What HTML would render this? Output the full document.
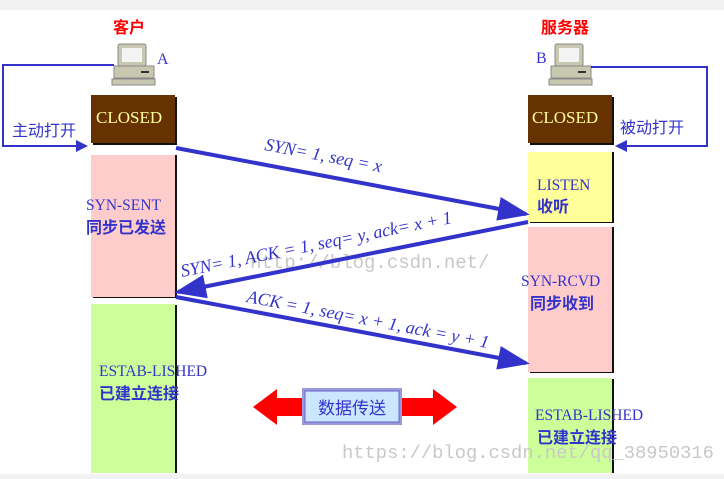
<!DOCTYPE html>
<html><head><meta charset="utf-8"><style>
html,body{margin:0;padding:0;background:#fff;}
svg{display:block;}
</style></head><body>
<svg width="724" height="479" viewBox="0 0 724 479" xmlns="http://www.w3.org/2000/svg">
<defs>
<marker id="ah" markerWidth="8" markerHeight="6" refX="7" refY="3" orient="auto" markerUnits="strokeWidth">
<path d="M0,0 L8,3 L0,6 Z" fill="#3333cc"/></marker>
<marker id="sh" markerWidth="6" markerHeight="6" refX="5" refY="3" orient="auto" markerUnits="strokeWidth">
<path d="M0,0 L6,3 L0,6 Z" fill="#3333cc"/></marker>
</defs>
<rect x="0" y="0" width="724" height="10" fill="#f2f2f2"/>
<rect x="0" y="474" width="724" height="5" fill="#f2f2f2"/>

<g font-family="Liberation Sans, Noto Sans CJK SC, sans-serif" font-weight="bold" fill="#ff0000" font-size="16">
<text x="113" y="33">客户</text>
<text x="541" y="33">服务器</text>
</g>
<g font-family="Liberation Serif, serif" fill="#3333cc" font-size="16">
<text x="157" y="64">A</text>
<text x="536" y="63">B</text>
</g>

<g>
<rect x="118" y="44" width="28" height="22" fill="#c8c8b0" stroke="#888" rx="2"/>
<rect x="122" y="48" width="20" height="14" fill="#f4f4f4"/>
<rect x="114" y="66" width="40" height="12" fill="#c8c8b0" stroke="#888"/>
<rect x="141" y="71" width="8" height="2" fill="#333"/>
<rect x="112" y="79" width="43" height="6" fill="#c8c8b0" stroke="#888"/>
</g>
<g transform="translate(437,0)">
<rect x="118" y="44" width="28" height="22" fill="#c8c8b0" stroke="#888" rx="2"/>
<rect x="122" y="48" width="20" height="14" fill="#f4f4f4"/>
<rect x="114" y="66" width="40" height="12" fill="#c8c8b0" stroke="#888"/>
<rect x="141" y="71" width="8" height="2" fill="#333"/>
<rect x="112" y="79" width="43" height="6" fill="#c8c8b0" stroke="#888"/>
</g>

<polyline points="114,65 3,65 3,146 86,146" fill="none" stroke="#3333cc" stroke-width="2" marker-end="url(#sh)"/>
<polyline points="591,67 707,67 707,146 617,146" fill="none" stroke="#3333cc" stroke-width="2" marker-end="url(#sh)"/>
<g font-family="Liberation Sans, Noto Sans CJK SC, sans-serif" fill="#3333cc" font-size="16">
<text x="12" y="136">主动打开</text>
<text x="620" y="133">被动打开</text>
</g>

<g>
<rect x="93" y="97" width="84" height="48" fill="#111"/>
<rect x="91" y="95" width="84" height="48" fill="#663300"/>
<rect x="530" y="97" width="84" height="48" fill="#111"/>
<rect x="528" y="95" width="84" height="48" fill="#663300"/>
<rect x="93" y="155" width="84" height="143" fill="#111"/>
<rect x="91" y="155" width="84" height="142" fill="#ffcccc"/>
<rect x="93" y="305" width="84" height="168" fill="#111"/>
<rect x="91" y="304" width="84" height="169" fill="#ccff99"/>
<rect x="530" y="152" width="84" height="71" fill="#111"/>
<rect x="528" y="152" width="84" height="70" fill="#ffff99"/>
<rect x="530" y="227" width="84" height="146" fill="#111"/>
<rect x="528" y="227" width="84" height="145" fill="#ffcccc"/>
<rect x="530" y="379" width="84" height="94" fill="#111"/>
<rect x="528" y="378" width="84" height="95" fill="#ccff99"/>
</g>
<g font-family="Liberation Serif, serif" fill="#ffff99" font-size="17">
<text x="96" y="123">CLOSED</text>
<text x="532" y="123">CLOSED</text>
</g>
<g font-family="Liberation Serif, serif" fill="#3333cc" font-size="15.5">
<text x="86" y="210">SYN-SENT</text>
<text x="537" y="190">LISTEN</text>
<text x="521" y="286">SYN-RCVD</text>
<text x="99" y="376">ESTAB-LISHED</text>
<text x="535" y="420">ESTAB-LISHED</text>
</g>
<g font-family="Liberation Sans, Noto Sans CJK SC, sans-serif" fill="#3333cc" font-size="16" font-weight="bold">
<text x="86" y="233">同步已发送</text>
<text x="537" y="212">收听</text>
<text x="530" y="309">同步收到</text>
<text x="99" y="399">已建立连接</text>
<text x="537" y="443">已建立连接</text>
</g>

<g font-family="Liberation Mono, monospace" fill="#c8c8c8">
<text x="250" y="268" font-size="19">http://blog.csdn.net/</text>
<text x="342" y="458" font-size="18.8">https://blog.csdn.net/qq_38950316</text>
</g>

<g stroke="#3333cc" stroke-width="4" fill="none">
<line x1="176" y1="148" x2="526" y2="214" marker-end="url(#ah)"/>
<line x1="528" y1="222" x2="178" y2="292" marker-end="url(#ah)"/>
<line x1="176" y1="297" x2="526" y2="363" marker-end="url(#ah)"/>
</g>
<g font-family="Liberation Serif, serif" font-style="italic" fill="#3333cc" font-size="18">
<text transform="translate(264,150) rotate(10.8)">SYN= 1, seq = x</text>
<text transform="translate(182,277) rotate(-11.3)">SYN= 1, ACK = 1, seq= y, ack= x + 1</text>
<text transform="translate(246,302) rotate(10.8)">ACK = 1, seq= x + 1, ack = y + 1</text>
</g>

<path d="M253,407 L277,389 L277,398 L305,398 L305,416 L277,416 L277,425 Z" fill="#ff0000"/>
<path d="M457,407 L433,389 L433,398 L400,398 L400,416 L433,416 L433,425 Z" fill="#ff0000"/>
<rect x="302" y="388" width="100" height="37" fill="#9999dd"/>
<rect x="305" y="391" width="94" height="31" fill="#cce6ff" stroke="#6666cc"/>
<text x="352" y="414" text-anchor="middle" font-family="Liberation Sans, Noto Sans CJK SC, sans-serif" fill="#3333cc" font-size="17">数据传送</text>
</svg>
</body></html>
